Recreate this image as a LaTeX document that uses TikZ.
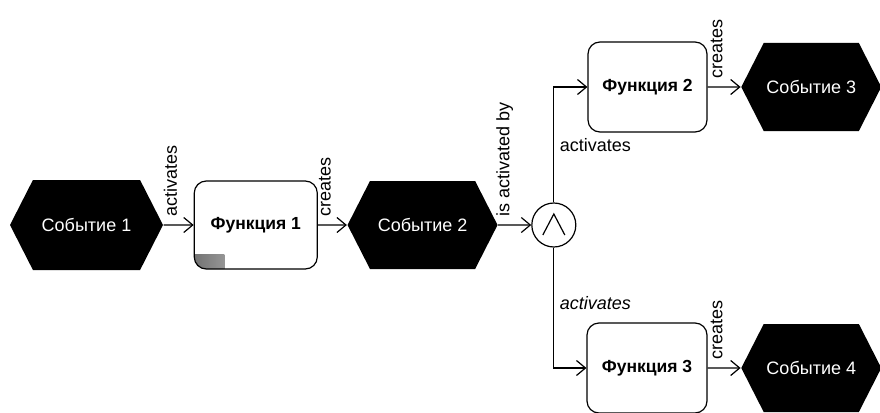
\documentclass[tikz,border=0pt]{standalone}
\usepackage{fontspec}
\setmainfont{Liberation Sans}
\usetikzlibrary{shapes.symbols, arrows.meta, positioning, calc}

\begin{document}
\begin{tikzpicture}[x=1pt, y=1pt, font=\fontsize{18}{21}\selectfont, line width=1.2pt,
        sobytie/.style={signal, signal to=east and west, signal pointer angle=126,
            fill=black, text=white, minimum width=150pt, minimum height=88pt, inner sep=0pt},
        funkciya/.style={draw, fill=white, rounded corners=12pt,
            minimum width=120pt, minimum height=90pt, font=\fontsize{17.5}{21}\selectfont\bfseries},
        ili/.style={circle, draw, minimum size=44pt, inner sep=0pt},
        svyaz/.style={-{Straight Barb[length=9pt,width=15pt]}},
        podpis/.style={rotate=90, anchor=south west, inner xsep=8pt, inner ysep=1pt}]
        \useasboundingbox (0,0) rectangle (880,-412);
        \node[sobytie, minimum width=153pt, minimum height=90pt] (s1) at (86.5,-225) {Событие 1};
        \node[funkciya, minimum width=123pt, minimum height=88pt, right=30pt of s1,
            path picture={\shade[sharp corners, left color=black!55, right color=white]
                (path picture bounding box.south west) rectangle ++(30,15);}] (f1) {Функция 1};
        \node[sobytie, right=29pt of f1] (s2) {Событие 2};
        \node[ili, right=33pt of s2] (i) {};
        \draw ([shift={(-11,-10)}]i.center) -- ([shift={(0,11)}]i.center) -- ([shift={(11,-10)}]i.center);
        \node[funkciya, minimum width=119pt] (f2) at (647.5,-87) {Функция 2};
        \node[sobytie, minimum width=140pt, right=33pt of f2] (s3) {Событие 3};
        \node[funkciya] (f3) at (647,-368) {Функция 3};
        \node[sobytie, minimum width=140pt, right=33pt of f3] (s4) {Событие 4};
        \draw[svyaz] (s1) -- node[podpis]{activates} (f1);
        \draw[svyaz] (f1) -- node[podpis]{creates} (s2);
        \draw[svyaz] (s2) -- node[podpis]{is activated by} (i);
        \draw[svyaz] (i.north) |- node[pos=0.25, anchor=west, xshift=2pt]{activates} (f2.west);
        \draw[svyaz] (i.south) |- node[pos=0.23, anchor=west, xshift=2pt,
            font=\fontsize{18}{21}\selectfont\itshape]{activates} (f3.west);
        \draw[svyaz] (f2) -- node[podpis]{creates} (s3);
        \draw[svyaz] (f3) -- node[podpis]{creates} (s4);
    \end{tikzpicture}
\end{document}
